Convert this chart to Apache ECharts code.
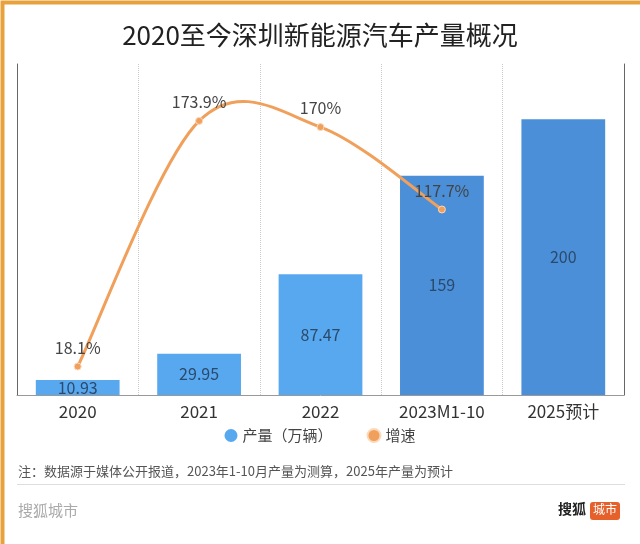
<!DOCTYPE html>
<html><head><meta charset="utf-8">
<script src="https://cdn.jsdelivr.net/npm/echarts@6/dist/echarts.min.js"></script>
<style>html,body{margin:0;padding:0;background:#fff}#c{width:640px;height:544px}</style>
</head><body><div id="c"></div>
<script>
const categories = ['2020', '2021', '2022', '2023M1-10', '2025预计'];
const output = [10.93, 29.95, 87.47, 159, 200];
const growth = [18.1, 173.9, 170, 117.7, null];
const growthLabels = ['18.1%', '173.9%', '170%', '117.7%', ''];
const barColors = ['#58a8f0', '#58a8f0', '#58a8f0', '#4a8fd8', '#4a8fd8'];

const lineColor = '#f0a05a';
const growthPts = growth.map((v, i) => [i, v]).filter(p => p[1] != null);

const chart = echarts.init(document.getElementById('c'), null, {renderer: 'canvas'});
const font = '"Noto Sans CJK SC", "Noto Sans", sans-serif';

function renderCurve(params, api) {
  if (params.dataIndex !== 0) return null;
  const pts = growthPts.map(p => api.coord(p));
  let d = 'M' + pts[0][0] + ' ' + pts[0][1];
  for (let i = 0; i < pts.length - 1; i++) {
    const p0 = pts[i - 1] || pts[i], p1 = pts[i], p2 = pts[i + 1], p3 = pts[i + 2] || pts[i + 1];
    const c1 = [p1[0] + (p2[0] - p0[0]) / 6, p1[1] + (p2[1] - p0[1]) / 6];
    const c2 = [p2[0] - (p3[0] - p1[0]) / 6, p2[1] - (p3[1] - p1[1]) / 6];
    d += ' C' + c1[0] + ' ' + c1[1] + ' ' + c2[0] + ' ' + c2[1] + ' ' + p2[0] + ' ' + p2[1];
  }
  return {type: 'path', shape: {pathData: d},
    style: {fill: 'none', stroke: lineColor, lineWidth: 3}, silent: true};
}

chart.setOption({
  backgroundColor: '#fff',
  textStyle: {fontFamily: font},
  title: {text: '2020至今深圳新能源汽车产量概况', left: 'center', top: 17,
    textStyle: {fontSize: 26, fontWeight: 'normal', color: '#222', fontFamily: font}},
  legend: {bottom: 96, left: 'center', itemWidth: 13, itemHeight: 13, itemGap: 34,
    icon: 'circle', textStyle: {fontSize: 15, color: '#444'},
    data: [{name: '产量（万辆）', itemStyle: {color: '#58a8f0'}}, {name: '增速', itemStyle: {color: lineColor}}]},
  grid: {left: 17, right: 16, top: 64, bottom: 149},
  xAxis: {type: 'category', data: categories,
    axisLine: {lineStyle: {color: '#999'}},
    axisTick: {alignWithLabel: true, length: 5, lineStyle: {color: '#666'}},
    axisLabel: {fontSize: 17, color: '#333', margin: 8},
    splitLine: {show: true, lineStyle: {type: 'dotted', color: '#ccc'}}},
  yAxis: [
    {type: 'value', min: 0, max: 240, axisLine: {show: true, lineStyle: {color: '#666'}},
     axisLabel: {show: false}, axisTick: {show: false}, splitLine: {show: false}},
    {type: 'value', min: 0, max: 210, position: 'right', axisLine: {show: true, lineStyle: {color: '#666'}},
     axisLabel: {show: false}, axisTick: {show: false}, splitLine: {show: false}}
  ],
  series: [
    {name: '产量（万辆）', type: 'bar', barWidth: '69%',
     data: output.map((v, i) => ({value: v, itemStyle: {color: barColors[i]}})),
     label: {show: true, position: 'inside', fontSize: 16, color: '#2b4a6b'}},
    {name: '增速曲线', type: 'custom', yAxisIndex: 1, renderItem: renderCurve,
     data: growthPts, z: 3, silent: true},
    {name: '增速', type: 'line', yAxisIndex: 1, symbol: 'circle', symbolSize: 7, z: 4,
     data: growth, lineStyle: {width: 0, opacity: 0},
     itemStyle: {color: lineColor, borderColor: '#fbd9bb', borderWidth: 1},
     label: {show: true, position: 'top', distance: 7, fontSize: 16, color: '#444',
       formatter: p => growthLabels[p.dataIndex]}}
  ],
  graphic: [
    {type: 'rect', left: 0, top: 0, shape: {width: 640, height: 544},
     style: {fill: 'none', stroke: '#e8a23c', lineWidth: 4}, silent: true},
    {type: 'text', left: 18, top: 465, style: {text: '注：数据源于媒体公开报道，2023年1-10月产量为测算，2025年产量为预计',
      fontSize: 13, fill: '#555', fontFamily: font}},
    {type: 'line', shape: {x1: 17, y1: 484.5, x2: 625, y2: 484.5}, style: {stroke: '#ddd', lineWidth: 1}},
    {type: 'text', left: 18, top: 503, style: {text: '搜狐城市', fontSize: 15, fill: '#aaa', fontFamily: font}},
    {type: 'text', left: 558, top: 502, style: {text: '搜狐', fontSize: 14, fontWeight: 'bold', fill: '#222', fontFamily: font}},
    {type: 'rect', left: 590, top: 502, shape: {width: 30, height: 18, r: 3}, style: {fill: '#e5602a'}},
    {type: 'text', left: 593, top: 503, style: {text: '城市', fontSize: 12, fill: '#fff', fontFamily: font}}
  ]
});
</script></body></html>
